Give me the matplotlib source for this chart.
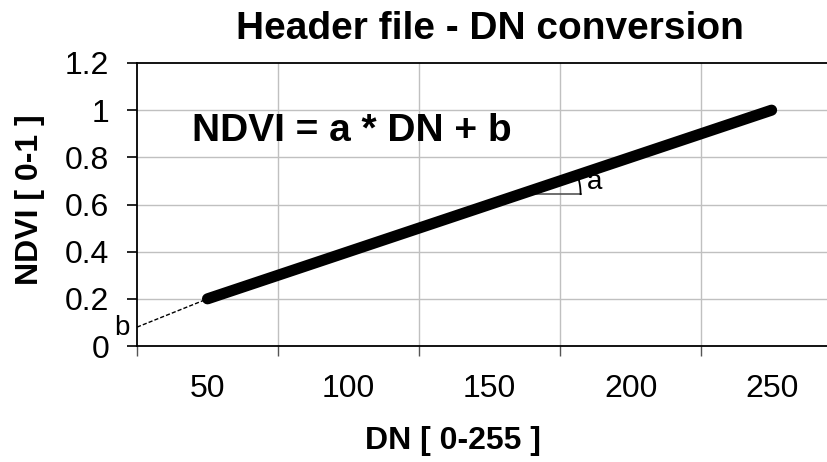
import matplotlib
matplotlib.use("Agg")
import matplotlib.pyplot as plt
import numpy as np

plt.rcParams['font.family'] = ['Liberation Sans', 'DejaVu Sans']

# data
dn_line = [50, 250]
ndvi_line = [0.2, 1.0]
dn_ext = [25, 50]          # dashed extension to the y axis
ndvi_ext = [0.08, 0.2]
x_labels = [50, 100, 150, 200, 250]
x_ticks = [25, 75, 125, 175, 225]
y_ticks = [0, 0.2, 0.4, 0.6, 0.8, 1, 1.2]
y_labels = ['0', '0.2', '0.4', '0.6', '0.8', '1', '1.2']

fig = plt.figure(figsize=(8.28, 4.62), dpi=100)
ax = fig.add_axes([137 / 828, 1 - 346 / 462, 691 / 828, (346 - 63) / 462])

ax.set_xlim(25, 270)
ax.set_ylim(0, 1.2)

# pixels per data unit, for the slope sketch
bb = ax.get_window_extent()
sx = bb.width / (270 - 25)
sy = bb.height / 1.2

# grid
for y in y_ticks[1:-1]:
    ax.axhline(y, color='#c0c0c0', lw=1, zorder=0)
for x in x_ticks[1:]:
    ax.axvline(x, color='#c0c0c0', lw=1, zorder=0)

ax.plot(dn_ext, ndvi_ext, color='black', lw=1, ls=(0, (3, 1.5)), zorder=2)
ax.plot(dn_line, ndvi_line, color='black', lw=8, solid_capstyle='round', zorder=3)

# slope indicator
slope = (ndvi_line[1] - ndvi_line[0]) / (dn_line[1] - dn_line[0])
x0 = 161
y0 = ndvi_line[0] + (x0 - dn_line[0]) * slope
r = 60
ax.plot([x0, x0 + r / sx], [y0, y0], color='#555555', lw=1.2, zorder=2)
t = np.linspace(0, np.arctan(slope * sy / sx) + 0.05, 30)
ax.plot(x0 + r * np.cos(t) / sx, y0 + r * np.sin(t) / sy, color='black', lw=1.3, zorder=2)
ax.text(184.5, y0 + 0.05, 'a', fontsize=20, va='center', ha='left')
ax.text(19.5, 0.075, 'b', fontsize=20, va='center', ha='center', clip_on=False)

ax.text(44.5, 0.87, 'NDVI = a * DN + b', fontsize=28, fontweight='bold', va='baseline')

# axes styling
for s in ['left', 'bottom', 'top']:
    ax.spines[s].set_color('black')
    ax.spines[s].set_linewidth(1.3)
ax.spines['right'].set_visible(False)

ax.set_xticks(x_ticks, minor=True)
ax.set_xticks(x_labels)
ax.set_xticklabels([str(v) for v in x_labels])
ax.tick_params(axis='x', which='major', length=0, pad=20, labelsize=23)
ax.tick_params(axis='x', which='minor', length=7, width=1, color='#555555')
ax.set_yticks(y_ticks)
ax.set_yticklabels(y_labels)
ax.tick_params(axis='y', length=7, width=1.2, pad=13, labelsize=23)

fig.text(30 / 828, 1 - 200 / 462, 'NDVI [ 0-1 ]', rotation=90, fontsize=23,
         fontweight='bold', ha='center', va='center')
fig.text(453 / 828, 1 - 441 / 462, 'DN [ 0-255 ]', fontsize=23,
         fontweight='bold', ha='center', va='center')
fig.text(490 / 828, 1 - 29 / 462, 'Header file - DN conversion', fontsize=28,
         fontweight='bold', ha='center', va='center')

fig.savefig('out.png', dpi=100)
